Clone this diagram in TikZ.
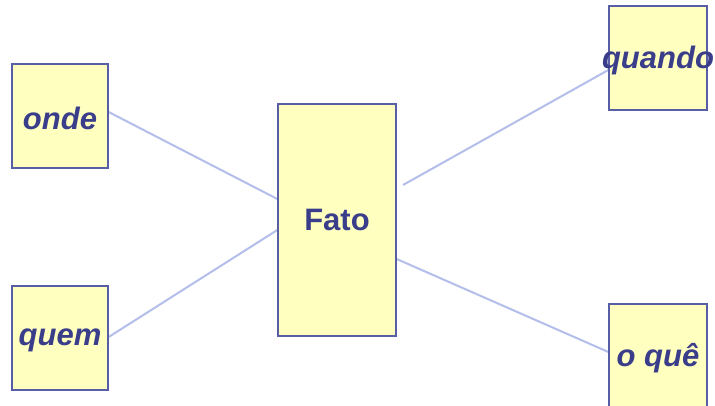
\documentclass[tikz,border=0pt]{standalone}
\usepackage{fontspec}
\setmainfont{Liberation Sans}
\usetikzlibrary{backgrounds}
\definecolor{boxfill}{RGB}{255,255,192}
\definecolor{boxline}{RGB}{88,94,166}
\definecolor{inktext}{RGB}{58,62,138}
\definecolor{linkline}{RGB}{180,190,234}
\tikzset{
  card/.style={draw=boxline, line width=1.3pt, fill=boxfill, inner sep=0pt, anchor=center},
  tag/.style={font=\fontsize{31}{36}\selectfont\bfseries\itshape, text=inktext, inner sep=0pt},
  link/.style={draw=linkline, line width=2pt}
}
\begin{document}
\begin{tikzpicture}[x=1pt,y=-1pt]
\clip (0,0) rectangle (715,406);
\node[card, minimum width=96pt, minimum height=104pt,
  label={[tag,yshift=-2pt]center:onde}] (onde) at (60,116) {};
\node[card, minimum width=96pt, minimum height=104pt,
  label={[tag,yshift=-2pt]center:quem}] (quem) at (60,338) {};
\node[card, minimum width=98pt, minimum height=104pt,
  label={[tag,yshift=-2pt]center:quando}] (quando) at (658,58) {};
\node[card, minimum width=98pt, minimum height=104pt,
  label={[tag,yshift=-2pt]center:o quê}] (oque) at (658,356) {};
\node[card, minimum width=118pt, minimum height=232pt,
  label={[tag,font=\fontsize{31}{36}\selectfont\bfseries]center:Fato}] (fato) at (337,220) {};
\coordinate (qstart) at (403,185);
\begin{pgfonlayer}{background}
  \fill[white] (0,0) rectangle (715,406);
  \draw[link] ([yshift=4pt]onde.east) -- ([yshift=21pt]fato.west);
  \draw[link] ([yshift=1pt]quem.east) -- ([yshift=-10pt]fato.west);
  \draw[link] (qstart) -- ([yshift=-12pt]quando.west);
  \draw[link] ([yshift=-39pt]fato.east) -- ([yshift=4pt]oque.west);
\end{pgfonlayer}
\end{tikzpicture}
\end{document}
